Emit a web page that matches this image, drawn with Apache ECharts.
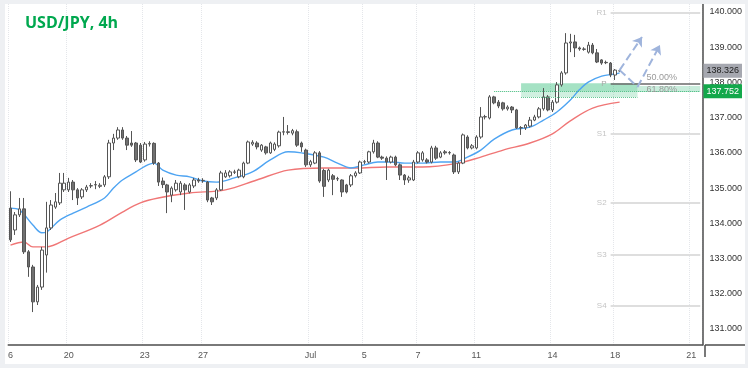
<!DOCTYPE html>
<html><head><meta charset="utf-8">
<script src="https://cdn.jsdelivr.net/npm/echarts@6/dist/echarts.min.js"></script>
<style>
html,body{margin:0;padding:0;background:#eef0f3;}
#c{position:absolute;left:5px;top:4px;width:740px;height:360px;background:#fff;}
</style></head><body><div id="c"></div>
<script>
// [open, close, low, high] per 4h bar
const ohlc = [
[134.43,133.53,133.47,134.91],[133.81,134.24,133.67,134.32],[134.24,134.41,134.18,134.72],[134.41,133.19,133.13,134.72],
[133.19,132.76,132.48,133.24],[132.76,131.77,131.48,132.82],[131.77,132.19,131.68,132.25],[132.19,133.24,132.11,133.33],
[133.10,133.87,132.60,134.61],[133.87,134.52,133.81,134.66],[134.46,134.61,134.41,134.86],[134.58,135.14,134.52,135.43],
[134.95,135.14,134.89,135.43],[134.95,135.17,134.89,135.29],[135.17,134.95,134.66,135.23],[134.95,134.72,134.52,135.00],
[134.75,134.95,134.69,135.00],[134.95,135.03,134.89,135.09],[135.06,135.07,135.00,135.14],[135.09,135.10,134.97,135.20],
[135.05,135.08,135.00,135.14],[135.09,135.32,135.03,135.37],[135.32,136.28,135.26,136.37],[136.28,136.42,136.08,136.54],
[136.42,136.65,136.37,136.73],[136.65,136.42,136.37,136.73],[136.42,136.22,136.08,136.48],[136.28,136.22,136.17,136.62],
[136.28,135.80,135.74,136.31],[136.22,135.74,135.71,136.28],[135.80,136.25,135.75,136.31],[136.25,136.27,136.18,136.33],
[136.27,135.71,135.66,136.30],[135.71,135.17,135.06,135.74],[135.20,135.10,135.00,135.30],[135.09,134.89,134.29,135.12],
[134.80,135.00,134.60,135.05],[134.95,135.14,134.90,135.23],[134.89,135.14,134.80,135.20],[135.09,134.95,134.38,135.14],
[134.89,135.09,134.85,135.14],[135.06,135.23,135.00,135.29],[135.23,135.20,135.15,135.29],[135.21,135.22,135.15,135.28],
[135.17,134.66,134.60,135.20],[134.72,134.61,134.52,134.75],[134.72,134.95,134.66,135.00],[134.95,135.43,134.92,135.49],
[135.32,135.43,135.29,135.51],[135.35,135.46,135.30,135.51],[135.46,135.45,135.40,135.52],[135.32,135.51,135.28,135.55],
[135.32,135.71,135.28,135.75],[135.71,136.31,135.68,136.35],[136.25,136.30,136.20,136.36],[136.28,136.17,136.10,136.33],
[136.08,136.22,136.03,136.25],[136.17,136.00,135.95,136.20],[136.00,136.28,135.97,136.32],[136.10,136.25,136.05,136.30],
[136.20,136.59,136.15,136.63],[136.59,136.60,136.50,137.02],[136.58,136.60,136.52,136.79],[136.56,136.63,136.50,136.68],
[136.60,136.22,136.17,136.66],[136.28,136.17,136.03,136.32],[136.08,135.66,135.60,136.12],[135.66,135.75,135.60,135.80],
[135.71,136.00,135.68,136.05],[136.00,135.20,135.15,136.05],[135.50,135.05,134.75,135.55],[135.23,135.51,135.17,135.55],
[135.35,135.25,134.80,135.40],[135.26,135.27,135.20,135.32],[135.23,134.89,134.75,135.25],[135.09,134.89,134.85,135.12],
[135.09,135.35,135.03,135.40],[135.35,135.43,135.30,135.48],[135.43,135.74,135.40,135.78],[135.74,135.75,135.68,135.80],
[135.74,136.03,135.70,136.06],[136.03,136.28,135.98,136.37],[136.28,135.88,135.85,136.33],[135.88,135.85,135.80,135.92],
[135.85,135.74,135.23,135.90],[135.74,135.88,135.70,135.92],[135.88,135.66,135.62,135.92],[135.66,135.37,135.23,135.70],
[135.37,135.23,135.09,135.40],[135.23,135.29,135.15,135.35],[135.23,135.74,135.20,135.80],[135.74,136.00,135.70,136.05],
[135.80,136.00,135.75,136.05],[135.80,135.74,135.70,135.85],[135.74,136.14,135.70,136.20],[136.14,135.85,135.80,136.20],
[135.88,136.00,135.85,136.05],[136.03,136.00,135.95,136.08],[136.00,136.01,135.95,136.05],[135.94,135.46,135.40,135.98],
[135.46,135.71,135.40,135.75],[135.71,136.51,135.68,136.55],[136.45,136.14,136.10,136.50],[136.14,136.20,136.10,136.25],
[136.14,136.45,136.10,136.50],[136.45,137.02,136.40,137.30],[137.02,137.03,136.95,137.08],[136.99,137.59,136.95,137.64],
[137.59,137.42,137.38,137.62],[137.44,137.33,137.27,137.50],[137.42,137.25,137.20,137.45],[137.25,137.30,137.20,137.35],
[137.30,137.22,137.13,137.33],[137.22,136.71,136.68,137.25],[136.71,136.72,136.51,136.76],[136.71,136.79,136.65,136.82],
[136.76,136.93,136.72,137.02],[136.93,137.02,136.90,137.08],[137.02,137.25,136.98,137.30],[137.25,137.59,137.20,137.84],
[137.59,137.22,137.18,137.64],[137.22,137.44,137.16,137.50],[137.44,137.93,137.40,138.01],[137.93,138.27,137.88,138.32],
[138.27,139.12,138.22,139.40],[139.12,139.15,138.86,139.38],[139.15,138.98,138.72,139.35],[138.98,138.95,138.90,139.02],
[138.95,138.94,138.90,139.00],[138.86,139.06,138.82,139.15],[139.06,138.84,138.80,139.12],[138.84,138.58,138.55,138.95],
[138.64,138.55,138.50,138.66],[138.57,138.56,138.52,138.62],[138.55,138.21,138.15,138.58],[138.21,138.35,138.07,138.38],
[138.33,138.33,138.30,138.36]
];
const totalSlots = 155;
const labelIdx  = [0, 13, 30, 43, 67, 79, 91, 104, 121, 135, 152];
const labelText = ['6','20','23','27','Jul','5','7','11','14','18','21'];

const blueMA = [[0,134.43],[2,134.38],[5,133.95],[7,133.73],[8,133.75],[11,134.09],[14,134.29],[17,134.46],[21,134.72],
[23,135.00],[25,135.23],[28,135.46],[30,135.62],[32,135.71],[34,135.51],[37,135.37],[40,135.32],[43,135.20],[46,135.17],
[50,135.29],[54,135.46],[58,135.80],[62,136.03],[65,136.00],[70,135.88],[73,135.71],[76,135.57],[79,135.66],[82,135.74],
[85,135.74],[88,135.71],[92,135.71],[96,135.74],[99,135.74],[102,135.88],[105,136.08],[108,136.39],[112,136.65],
[116,136.73],[119,136.93],[122,137.16],[125,137.50],[127,137.79],[129,138.01],[132,138.18],[135,138.24],[136,138.27]];
const redMA = [[0,133.38],[3,133.47],[5,133.33],[8,133.33],[13,133.58],[20,133.95],[25,134.32],[29,134.58],[33,134.72],
[40,134.86],[48,134.95],[55,135.23],[62,135.51],[70,135.57],[77,135.57],[84,135.60],[92,135.60],[100,135.71],[105,135.88],
[110,136.08],[116,136.28],[121,136.54],[125,136.91],[130,137.27],[136,137.44]];

const levelNames  = ['R1','S1','S2','S3','S4'];
const levelValues = [139.97, 136.54, 134.58, 133.10, 131.65];
const levelFrom = 134, levelTo = 154;
const pivotValue = 137.97;
const lastPrice = 138.326;
const fib618 = 137.752;
const fibTexts = ['50.00%','61.80%'];
const fibTextPos = [[142,138.15],[142,137.80]];
const zoneX = [114, 140];
const zoneY = [137.98, 137.76, 137.59];
const bandX = [140, 154];
const bandY = [137.90, 137.73];
const fibLineFrom = 108;
const arrowUp = [[136,138.35],[141,139.29]];
const arrowV  = [[136,138.35],[140,137.87],[145,139.06]];

const cats = Array.from({length: totalSlots}, (_, i) => {
  const k = labelIdx.indexOf(i); return k >= 0 ? labelText[k] : '';
});
const isLabel = (i) => labelIdx.indexOf(i) >= 0;

const gray = '#4d4d4d';
const arrowStyle = {type:'dashed', color:'#9fb4dc', width:2};

const markLines = [];
levelNames.forEach((n, i) => {
  markLines.push([
    {coord:[levelFrom, levelValues[i]], lineStyle:{color:'#dedede', width:2, type:'solid'},
     label:{show:true, position:'start', formatter:n, color:'#c4c4c4', fontSize:8, distance:4}},
    {coord:[levelTo, levelValues[i]]}
  ]);
});
markLines.push([
  {coord:[levelFrom, pivotValue], lineStyle:{color:'#6a6a6a', width:1.5, type:'solid'},
   label:{show:true, position:'start', formatter:'P', color:'#a8a8a8', fontSize:8, distance:4}},
  {coord:[levelTo, pivotValue]}
]);
markLines.push([
  {coord:[fibLineFrom, fib618], lineStyle:{color:'#3cb878', width:1, type:'dotted'}, label:{show:false}},
  {coord:[levelTo, fib618]}
]);
markLines.push([
  {coord:[zoneX[0], zoneY[2]], lineStyle:{color:'#5cc48e', width:1, type:'dotted'}, label:{show:false}},
  {coord:[zoneX[1], zoneY[2]]}
]);
markLines.push([
  {coord:arrowUp[0], lineStyle:arrowStyle, label:{show:false}},
  {coord:arrowUp[1], symbol:'arrow', symbolSize:9}
]);
markLines.push([
  {coord:arrowV[0], lineStyle:arrowStyle, label:{show:false}},
  {coord:arrowV[1]}
]);
markLines.push([
  {coord:arrowV[1], lineStyle:arrowStyle, label:{show:false}},
  {coord:arrowV[2], symbol:'arrow', symbolSize:9}
]);
markLines.push({yAxis:lastPrice, lineStyle:{color:'rgba(0,0,0,0)'},
  label:{show:true, position:'end', distance:1, formatter:lastPrice.toFixed(3), backgroundColor:'#a6a8b0',
         color:'#222', padding:[3,3,2,3], fontSize:9}});
markLines.push({yAxis:fib618, lineStyle:{color:'rgba(0,0,0,0)'},
  label:{show:true, position:'end', distance:1, formatter:fib618.toFixed(3), backgroundColor:'#13a84b',
         color:'#fff', padding:[3,3,2,3], fontSize:9}});

const chart = echarts.init(document.getElementById('c'));
chart.setOption({
  animation:false,
  textStyle:{fontFamily:'Liberation Sans, Arial, sans-serif'},
  title:{text:'USD/JPY, 4h', left:15, top:6,
    textStyle:{color:'#00a84f', fontSize:16, fontWeight:'bold', fontFamily:'Open Sans, sans-serif'}},
  grid:{left:1, right:40, top:0, bottom:19},
  xAxis:{type:'category', data:cats, boundaryGap:true,
    axisLine:{lineStyle:{color:gray, width:1.5}}, axisTick:{show:false},
    axisLabel:{interval:(i)=>isLabel(i), color:'#555', fontSize:9, margin:6},
    splitLine:{show:true, interval:(i)=>isLabel(i), lineStyle:{color:'#e4e6ea', type:'dotted'}}},
  yAxis:{type:'value', position:'right', min:130.545, max:140.227, splitNumber:9, scale:true,
    axisLine:{show:true, lineStyle:{color:gray, width:1.5}}, axisTick:{show:false}, splitLine:{show:false},
    axisLabel:{showMinLabel:false, showMaxLabel:false, margin:7, fontSize:9, color:'#333',
      formatter:(v)=> Math.abs(v - Math.round(v)) < 1e-6 ? v.toFixed(3) : ''}},
  graphic:[
    {type:'line', shape:{x1:700, y1:341, x2:740, y2:341}, style:{stroke:gray, lineWidth:1.5}, silent:true},
    {type:'line', shape:{x1:700, y1:341, x2:700, y2:353}, style:{stroke:gray, lineWidth:1.5}, silent:true}
  ],
  series:[
    {type:'line', data:redMA, smooth:0.35, showSymbol:false, lineStyle:{color:'#f07676', width:1.4}, z:2},
    {type:'line', data:blueMA, smooth:0.35, showSymbol:false, lineStyle:{color:'#4ea4f2', width:1.4}, z:2},
    {type:'candlestick', data:ohlc, barWidth:3, z:3,
      itemStyle:{color:'#ffffff', color0:'#707070', borderColor:'#555', borderColor0:'#555', borderWidth:1},
      markArea:{silent:true, data:[
        [{coord:[zoneX[0], zoneY[0]], itemStyle:{color:'rgba(40,185,115,0.42)'}}, {coord:[zoneX[1], zoneY[1]]}],
        [{coord:[zoneX[0], zoneY[1]], itemStyle:{color:'rgba(40,185,115,0.22)'}}, {coord:[zoneX[1], zoneY[2]]}],
        [{coord:[bandX[0], bandY[0]], itemStyle:{color:'rgba(40,185,115,0.25)'}}, {coord:[bandX[1], bandY[1]]}]
      ]},
      markLine:{silent:true, symbol:['none','none'], data:markLines},
      markPoint:{silent:true, symbol:'circle', symbolSize:0, data: fibTexts.map((t,i)=>({
        coord:fibTextPos[i], label:{show:true, position:'right', distance:0, formatter:t, color:'#9a9a9a', fontSize:9}}))}
    }
  ]
});
</script></body></html>
